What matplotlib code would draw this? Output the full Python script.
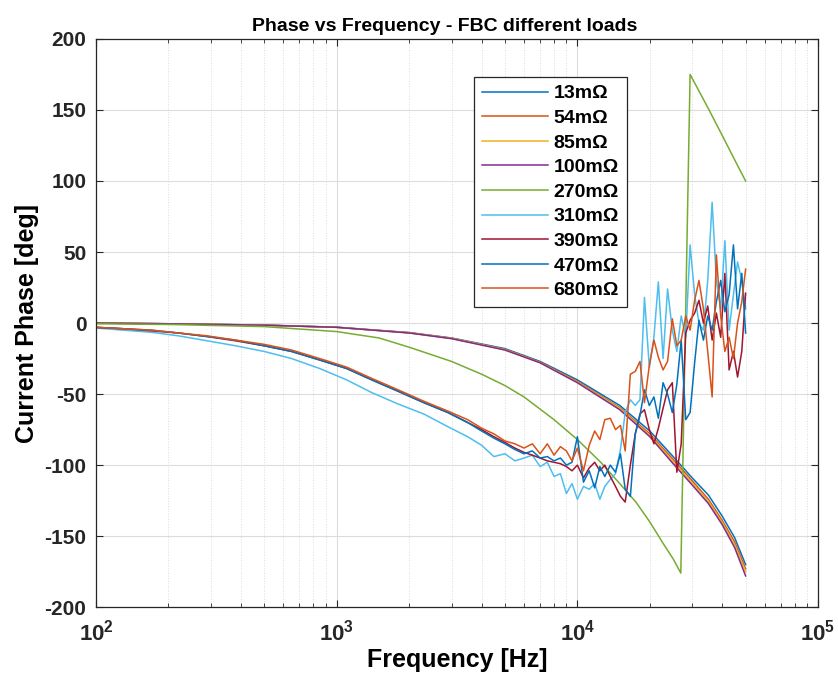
import math
import matplotlib
matplotlib.use("Agg")
import matplotlib.pyplot as plt
from matplotlib.ticker import FixedLocator, FuncFormatter, LogLocator, NullFormatter

plt.rcParams['font.family'] = ['Liberation Sans', 'DejaVu Sans']
plt.rcParams['mathtext.fontset'] = 'custom'
plt.rcParams['mathtext.rm'] = 'Liberation Sans:bold'
plt.rcParams['mathtext.bf'] = 'Liberation Sans:bold'
plt.rcParams['axes.unicode_minus'] = False

# model curves (smooth)
f_model = [100, 200, 500, 1000, 2000, 3000, 5000, 7000, 10000, 15000, 20000,
           25000, 30000, 35000, 40000, 45000, 50000]
ph_13 = [0, -0.5, -1.4, -2.9, -6.7, -10.5, -18, -27, -40, -58, -76, -94, -109, -121, -136, -151, -170]
ph_54 = [0, -0.5, -1.5, -3, -6.8, -10.7, -18.5, -27.5, -41, -59.5, -78, -96, -111, -124, -139, -154, -173]
ph_85 = [0, -0.5, -1.5, -3, -6.9, -10.8, -18.7, -27.8, -41.5, -60, -79, -97.5, -112.5, -125.5, -140.5, -156, -175]
ph_100 = [0, -0.5, -1.5, -3, -7, -11, -19, -28, -42, -61, -80, -99, -114, -127, -142, -158, -178]

f_270 = [100, 200, 500, 1000, 1500, 2000, 3000, 4000, 5000, 6000, 8000, 10000, 12500,
         15000, 17500, 20000, 22500, 25000, 26900, 29400, 35000, 40000, 45000, 50000]
ph_270 = [-0.5, -1, -2.5, -6, -10.5, -17, -27, -36, -44, -52, -68, -82, -98,
          -113, -126, -140, -154, -166, -176, 175, 151, 132, 115, 100]

# measured curves (noisy)
f_meas = [100, 130, 170, 220, 290, 380, 500, 650, 850, 1100, 1400, 1800, 2300, 2900,
          3500, 4000, 4500, 5000, 5500, 6000, 6500, 7000, 7500, 8000, 8500, 9000, 9500,
          10000, 10600, 11200, 11800, 12400, 13000, 13700, 14400, 15100, 15800, 16600,
          17400, 18200, 19000, 19900, 20800, 21700, 22700, 23700, 24800, 25900, 27000,
          28200, 29400, 30700, 32000, 33400, 34800, 36300, 37800, 39400, 41000, 42700,
          44500, 46300, 48200, 50000]
ph_310 = [-3.5, -5, -6.5, -9, -12.5, -16, -20, -25, -32, -40, -49, -57, -64, -73,
          -80, -86, -94, -92, -97, -95, -93, -101, -98, -108, -106, -120, -113,
          -124, -115, -117, -113, -124, -115, -110, -106, -89, -63, -54,
          -58, -54, 18, -31, -10, 29, -25, 24, -5, -20, 5,
          -10, 55, 20, 0, -5, 30, 85, 30, 10, 58, -5,
          20, 43, 30, 10]
ph_390 = [-3, -4, -5.5, -7, -9.5, -12.5, -16, -20, -26, -32, -40, -48, -56, -63,
          -70, -75, -80, -84, -88, -91, -93, -95, -97, -98, -99, -101, -104,
          -100, -109, -102, -98, -104, -100, -108, -115, -122, -126, -100,
          -78, -64, -61, -75, -85, -74, -60, -47, -42, -105, -85,
          -7, 2, 7, 16, 0, 12, -12, 7, -10, 35, -33,
          -20, -38, -20, 21]
ph_470 = [-3, -4, -5, -7, -9.5, -12, -16, -20, -26, -32, -40, -48, -56, -63,
          -70, -76, -81, -85, -89, -92, -90, -95, -94, -97, -95, -100, -98,
          -80, -112, -104, -116, -101, -108, -100, -105, -92, -117, -122,
          -78, -65, -47, -58, -52, -67, -42, -50, -63, -43, -12,
          -68, -63, -28, 2, -12, 5, -5, 15, 30, 8, 20,
          55, 10, 35, -7]
ph_680 = [-3, -4, -5, -7, -9, -12, -15, -19, -25, -31, -39, -47, -55, -62,
          -68, -74, -78, -83, -85, -88, -85, -92, -85, -93, -87, -90, -97,
          -88, -104, -86, -76, -82, -68, -67, -75, -72, -90, -36,
          -34, -27, -56, -30, -12, -24, -33, -27, 3, -16, -12,
          5, -5, 16, 30, 10, -20, -52, 48, 5, -20, -10,
          -25, 0, 15, 38]

labels = ['13m\u03a9', '54m\u03a9', '85m\u03a9', '100m\u03a9', '270m\u03a9',
          '310m\u03a9', '390m\u03a9', '470m\u03a9', '680m\u03a9']
colors = ['#0072BD', '#D95319', '#EDB120', '#7E2F8E', '#77AC30',
          '#4DBEEE', '#A2142F', '#0072BD', '#D95319']

series = [(f_model, ph_13), (f_model, ph_54), (f_model, ph_85), (f_model, ph_100),
          (f_270, ph_270), (f_meas, ph_310), (f_meas, ph_390), (f_meas, ph_470),
          (f_meas, ph_680)]

fig = plt.figure(figsize=(8.38, 6.83), dpi=100)
ax = fig.add_axes([0.1146, 0.111, 0.8616, 0.832])

for (x, y), lab, c in zip(series, labels, colors):
    ax.plot(x, y, color=c, lw=1.1, label=lab)

ax.set_xscale('log')
ax.set_xlim(100, 1e5)
ax.set_ylim(-200, 200)
ax.yaxis.set_major_locator(FixedLocator(range(-200, 201, 50)))
ax.xaxis.set_major_locator(FixedLocator([1e2, 1e3, 1e4, 1e5]))
ax.xaxis.set_minor_locator(LogLocator(base=10, subs=range(2, 10)))
ax.xaxis.set_minor_formatter(NullFormatter())
ax.xaxis.set_major_formatter(FuncFormatter(lambda v, p: r'$\mathbf{10^{%d}}$' % round(math.log10(v))))

ax.grid(True, which='major', color='#dcdcdc', lw=0.8)
ax.grid(True, which='minor', axis='x', color='#dcdcdc', lw=0.7, ls=':')
ax.set_axisbelow(True)

ax.tick_params(which='both', direction='in', top=True, right=True, colors='#262626')
ax.tick_params(which='major', length=5, labelsize=15, pad=7)
ax.tick_params(which='minor', length=3)
ax.tick_params(axis='x', which='major', labelsize=16, pad=9)
for lb in ax.get_yticklabels():
    lb.set_fontweight('bold')
for s in ax.spines.values():
    s.set_color('#262626')
    s.set_linewidth(0.9)

ax.set_title('Phase vs Frequency - FBC different loads', fontsize=14, fontweight='bold',
             pad=6, x=0.483)
ax.set_xlabel('Frequency [Hz]', fontsize=18, fontweight='bold', labelpad=2)
ax.set_ylabel('Current Phase [deg]', fontsize=18, fontweight='bold', labelpad=4)

leg = ax.legend(loc='upper left', bbox_to_anchor=(0.5235, 0.933),
                prop={'weight': 'bold', 'size': 14}, handlelength=3.4, handletextpad=0.3,
                labelspacing=0.36, borderpad=0.4, fancybox=False, framealpha=1,
                edgecolor='#262626', borderaxespad=0)
leg.get_frame().set_linewidth(0.9)

fig.savefig('out.png', dpi=100)
